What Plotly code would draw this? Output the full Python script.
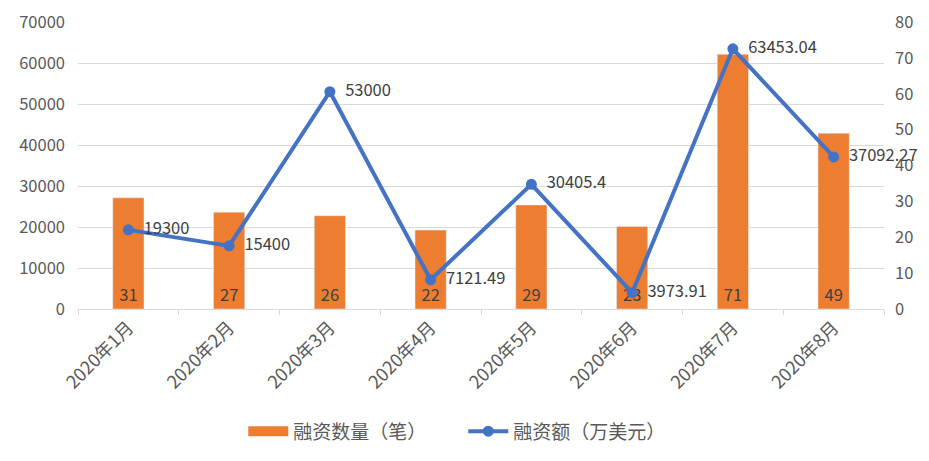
import plotly.graph_objects as go

# ── data ──────────────────────────────────────────────────────────────────────
MONTHS    = ["2020年1月", "2020年2月", "2020年3月", "2020年4月",
             "2020年5月", "2020年6月", "2020年7月", "2020年8月"]
DEAL_CNT  = [31, 27, 26, 22, 29, 23, 71, 49]
AMOUNT    = [19300, 15400, 53000, 7121.49, 30405.4, 3973.91, 63453.04, 37092.27]
AMT_TEXT  = ["19300", "15400", "53000", "7121.49", "30405.4", "3973.91",
             "63453.04", "37092.27"]

FONT   = "Noto Sans CJK SC"
ORANGE = "#ED7D31"
BLUE   = "#4472C4"
GREY   = "#595959"
PAD    = "\u00a0\u00a0"   # nudges the line labels off the markers

fig = go.Figure()

# bars sit on the base axis (right side, 0-80) so the line overlay draws on top
fig.add_trace(go.Bar(
    x=MONTHS, y=DEAL_CNT,
    name="融资数量（笔）",
    marker_color=ORANGE,
    width=0.31,
    text=[str(v) for v in DEAL_CNT],
    textposition="inside",
    insidetextanchor="start",
    textangle=0,
    textfont=dict(size=16.5, color="#404040", family=FONT),
    showlegend=False,
    yaxis="y",
))
# legend proxy so the bar swatch is a wide flat block like Excel's
fig.add_trace(go.Scatter(
    x=[MONTHS[0]], y=[None],
    name="融资数量（笔）",
    mode="lines",
    line=dict(color=ORANGE, width=11),
    yaxis="y",
))

fig.add_trace(go.Scatter(
    x=MONTHS, y=AMOUNT,
    name="融资额（万美元）",
    mode="lines+markers+text",
    line=dict(color=BLUE, width=4),
    marker=dict(color=BLUE, size=11),
    text=[PAD + t for t in AMT_TEXT],
    textposition="middle right",
    textfont=dict(size=16.5, color="#404040", family=FONT),
    cliponaxis=False,
    yaxis="y2",
))

# page body adds 8px offset, margins compensate
fig.update_layout(
    width=929, height=461,
    margin=dict(l=70, r=53, t=14, b=160),
    paper_bgcolor="white",
    plot_bgcolor="white",
    font=dict(family=FONT, size=16, color=GREY),
    showlegend=True,
    legend=dict(orientation="h", x=0.478, xanchor="center",
                y=-0.36, yanchor="top",
                font=dict(size=19, color=GREY), itemwidth=40,
                entrywidth=165),
    xaxis=dict(
        type="category",
        range=[-0.5, 7.5],
        tickangle=-45,
        automargin=False,
        ticks="outside", tickson="boundaries", ticklen=5, tickcolor="#d9d9d9",
        showline=True, linecolor="#d9d9d9", linewidth=1,
        showgrid=False,
        tickfont=dict(size=18, color=GREY),
    ),
    yaxis=dict(
        side="right",
        range=[0, 80], dtick=10,
        automargin=False,
        ticklabelstandoff=10,
        showgrid=False, zeroline=False,
        tickfont=dict(size=16.5, color=GREY),
    ),
    yaxis2=dict(
        side="left", overlaying="y",
        range=[0, 70000], dtick=10000, tickformat="d",
        automargin=False,
        ticklabelstandoff=12,
        showgrid=True, gridcolor="#d9d9d9", gridwidth=1,
        zeroline=False,
        tickfont=dict(size=16.5, color=GREY),
    ),
)

fig.write_html("out.html")
